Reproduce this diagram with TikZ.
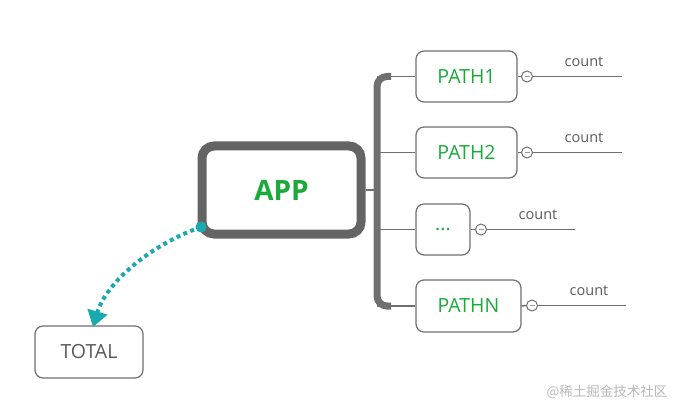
\documentclass[tikz,border=0pt]{standalone}
\usepackage{fontspec}
\setmainfont{Open Sans}
\newfontfamily\cjk{Noto Sans CJK SC}
\usetikzlibrary{arrows.meta}
\definecolor{linegray}{HTML}{707070}
\definecolor{appgray}{HTML}{646464}
\definecolor{txtgreen}{HTML}{1BAA3A}
\definecolor{tealc}{HTML}{1AA9AE}
\definecolor{wm}{HTML}{B8B8B8}
\definecolor{totgray}{HTML}{5A5A5A}
\begin{document}
\begin{tikzpicture}[x=1pt,y=-1pt,
  box/.style={draw=linegray, line width=1.2pt, rounded corners=8pt, fill=white,
    text=txtgreen, font=\fontsize{19.5}{20}\selectfont, inner sep=0pt},
  appbox/.style={draw=appgray, line width=9pt, rounded corners=12pt, fill=white,
    text=txtgreen, font=\bfseries\fontsize{28}{30}\selectfont, inner sep=0pt,
    minimum width=159pt, minimum height=88pt},
  knob/.style={circle, draw=linegray, line width=1pt, fill=white, minimum size=11pt, inner sep=0pt},
  thin/.style={draw=linegray, line width=1.5pt},
  cnt/.style={text=totgray, font=\fontsize{14.5}{15}\selectfont, inner sep=0pt},
]
\useasboundingbox (0,0) rectangle (685,414);

% central node
\node[appbox] (app) at (281.5,190) {APP};

% branch nodes
\node[box, minimum width=101pt, minimum height=51pt] (p1) at (466.5,76.5) {PATH1};
\node[box, minimum width=101pt, minimum height=51pt] (p2) at (466.5,152.5) {PATH2};
\node[box, minimum width=54pt, minimum height=51pt] (pd) at (443,229.5) {...};
\node[box, minimum width=105pt, minimum height=52pt] (pn) at (468.5,306) {PATHN};

% total
\node[box, minimum width=108pt, minimum height=52pt, text=totgray] (tot) at (89,352) {TOTAL};

% spine
\coordinate (s1) at (377,76.5);
\coordinate (s2) at (377,152.5);
\coordinate (sa) at (377,190);
\coordinate (sd) at (377,229.5);
\coordinate (sn) at (377,306);
\draw[thin] (s1) -- (p1.west);
\draw[thin] (s2) -- (p2.west);
\draw[thin] (sd) -- (pd.west);
\draw[thin] (sn) -- (pn.west);
\draw[thin] (app.east) -- (sa);
\draw[draw=linegray, line width=7pt, rounded corners=10pt]
  ([xshift=14pt]s1) -- (s1) -- (sn) -- ([xshift=14pt]sn);

% knobs and count lines
\node[knob] (k1) at (527,76.5) {};
\node[knob] (k2) at (527,152.5) {};
\node[knob] (kd) at (481,229.5) {};
\node[knob] (kn) at (532,305.5) {};
\foreach \k in {k1,k2,kd,kn}{
  \draw[draw=linegray!70, line width=0.8pt] ([xshift=-2.5pt]\k.center) -- ([xshift=2.5pt]\k.center);
}
\coordinate (e1) at (622,76.5);
\coordinate (e2) at (622,152.5);
\coordinate (ed) at (575,229.5);
\coordinate (en) at (626,305.5);
\draw[thin] (p1.east) -- (k1.west);
\draw[thin] (p2.east) -- (k2.west);
\draw[thin] (pd.east) -- (kd.west);
\draw[thin] (pn.east) -- (kn.west);
\draw[thin] (k1.east) -- (e1);
\draw[thin] (k2.east) -- (e2);
\draw[thin] (kd.east) -- (ed);
\draw[thin] (kn.east) -- (en);
\node[cnt] (c1) at (584,62) {count};
\node[cnt] (c2) at (584,138) {count};
\node[cnt] (cd) at (538,215) {count};
\node[cnt] (cn) at (589,291) {count};

% dotted arrow to total
\coordinate (appdot) at (201,227);
\coordinate (tip) at (93,327);
\draw[tealc, line width=4pt, dash pattern=on 4pt off 3.5pt,
  -{Triangle[length=16pt,width=20pt]}]
  (appdot) .. controls (150,245) and (106,283) .. (tip);
\fill[tealc] (appdot) circle (5.5pt);

% watermark
\node[text=wm, font=\cjk\fontsize{13.5}{14}\selectfont, inner sep=0pt] (wmk) at (607,392) {@稀土掘金技术社区};
\end{tikzpicture}
\end{document}
